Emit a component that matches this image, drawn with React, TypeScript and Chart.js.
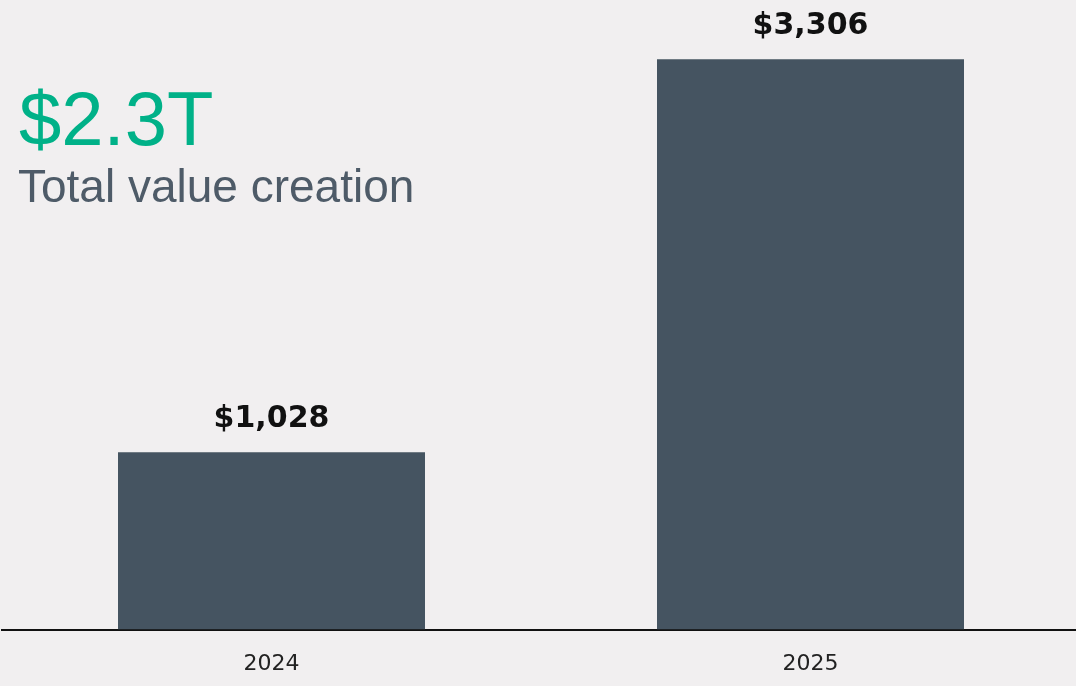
import React, { useEffect, useRef } from "react";
import { Chart, registerables } from "chart.js";
Chart.register(...registerables);

const categories = ["2024", "2025"];
const values = [1028, 3306];
const valueLabels = ["$1,028", "$3,306"];
const headline = "$2.3T";
const subline = "Total value creation";

const BG = "#f1eff0";
const BAR = "#455461";

export default function App() {
  const ref = useRef<HTMLCanvasElement>(null);
  useEffect(() => {
    if (!ref.current) return;
    const labelPlugin = {
      id: "valueLabels",
      afterDatasetsDraw(chart: any) {
        const ctx = chart.ctx;
        const meta = chart.getDatasetMeta(0);
        ctx.save();
        ctx.font = "bold 30px 'DejaVu Sans', sans-serif";
        ctx.fillStyle = "#111111";
        ctx.textAlign = "center";
        ctx.textBaseline = "alphabetic";
        meta.data.forEach((el: any, i: number) => {
          ctx.fillText(valueLabels[i], el.x, el.y - 25);
        });
        ctx.restore();
      },
    };
    const chart = new Chart(ref.current, {
      type: "bar",
      data: {
        labels: categories,
        datasets: [
          {
            data: values,
            backgroundColor: BAR,
            borderWidth: 0,
            barPercentage: 307 / 539,
            categoryPercentage: 1,
          },
        ],
      },
      options: {
        animation: false,
        responsive: false,
        maintainAspectRatio: false,
        layout: { padding: { left: 2, right: 0, top: 0, bottom: 10 } },
        plugins: {
          legend: { display: false },
          tooltip: { enabled: false },
          title: { display: false },
        },
        scales: {
          x: {
            grid: { display: false, drawTicks: false },
            border: { display: true, color: "#111111", width: 2 },
            ticks: {
              color: "#222222",
              font: { family: "'DejaVu Sans', sans-serif", size: 22 },
              padding: 21,
            },
          },
          y: {
            display: false,
            min: 0,
            max: 3650,
          },
        },
      },
      plugins: [labelPlugin],
    });
    return () => chart.destroy();
  }, []);

  return (
    <div
      style={{
        position: "fixed",
        left: 0,
        top: 0,
        width: 1076,
        height: 686,
        overflow: "hidden",
        background: BG,
      }}
    >
      <canvas ref={ref} width={1080} height={708} style={{ position: "absolute", left: 0, top: 0 }} />
      <div
        style={{
          position: "absolute",
          left: 19,
          top: 81,
          fontFamily: "'Liberation Sans', Arial, sans-serif",
          fontSize: 76,
          lineHeight: 1,
          color: "#00b188",
          whiteSpace: "nowrap",
        }}
      >
        {headline}
      </div>
      <div
        style={{
          position: "absolute",
          left: 18,
          top: 163,
          fontFamily: "'Liberation Sans', Arial, sans-serif",
          fontSize: 46,
          lineHeight: 1,
          color: "#4e5b68",
          whiteSpace: "nowrap",
        }}
      >
        {subline}
      </div>
    </div>
  );
}
